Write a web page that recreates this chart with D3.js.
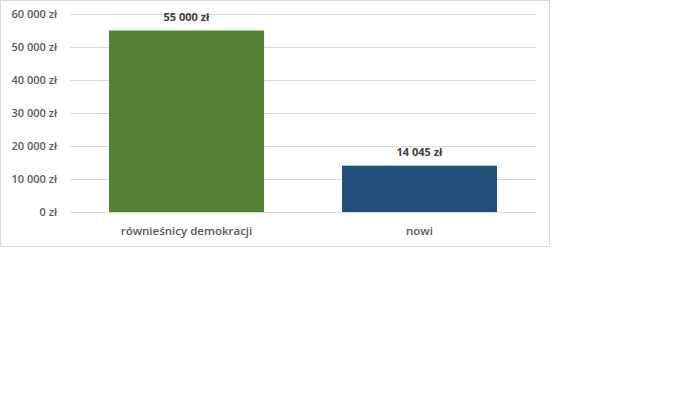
<!DOCTYPE html>
<html>
<head>
<meta charset="utf-8">
<script src="https://cdn.jsdelivr.net/npm/d3@7"></script>
<style>
  body { margin: 0; background: #fff; }
  svg text { font-family: "Open Sans", "Liberation Sans", sans-serif; }
</style>
</head>
<body>
<svg id="chart" width="700" height="393"></svg>
<script>
// chart data
const categories = ["równieśnicy demokracji", "nowi"];
const values = [55000, 14045];
const barColors = ["#548235", "#1F4E79"];
const yTicks = [0, 10000, 20000, 30000, 40000, 50000, 60000];

const fmt = v => d3.format(",")(v).replace(/,/g, " ") + " zł";

const svg = d3.select("#chart");

// outer frame of the chart area
svg.append("rect")
  .attr("x", 0.5).attr("y", 0.5)
  .attr("width", 549).attr("height", 246)
  .attr("fill", "#fff")
  .attr("stroke", "#d9d9d9");

const plotLeft = 70, plotRight = 536, plotTop = 14, plotBottom = 212;

const x = d3.scaleBand()
  .domain(categories)
  .range([plotLeft, plotRight])
  .paddingInner(0.335)
  .paddingOuter(0.1675);

const y = d3.scaleLinear()
  .domain([0, 60000])
  .range([plotBottom, plotTop]);

// gridlines
svg.append("g")
  .selectAll("line")
  .data(yTicks)
  .join("line")
  .attr("x1", plotLeft).attr("x2", plotRight)
  .attr("y1", d => Math.round(y(d)) + 0.5)
  .attr("y2", d => Math.round(y(d)) + 0.5)
  .attr("stroke", "#d9d9d9")
  .attr("stroke-width", 1);

// y tick labels
svg.append("g")
  .selectAll("text")
  .data(yTicks)
  .join("text")
  .attr("x", 57)
  .attr("y", d => y(d))
  .attr("dy", "0.35em")
  .attr("text-anchor", "end")
  .attr("fill", "#595959")
  .attr("font-size", 11)
  .attr("font-weight", 600)
  .text(fmt);

// bars
svg.append("g")
  .selectAll("rect")
  .data(values)
  .join("rect")
  .attr("x", (d, i) => x(categories[i]))
  .attr("y", d => y(d))
  .attr("width", x.bandwidth())
  .attr("height", d => y(0) - y(d))
  .attr("fill", (d, i) => barColors[i]);

// value labels
svg.append("g")
  .selectAll("text")
  .data(values)
  .join("text")
  .attr("x", (d, i) => x(categories[i]) + x.bandwidth() / 2)
  .attr("y", d => y(d) - 10)
  .attr("text-anchor", "middle")
  .attr("fill", "#404040")
  .attr("font-size", 11)
  .attr("font-weight", 700)
  .text(fmt);

// category labels
svg.append("g")
  .selectAll("text")
  .data(categories)
  .join("text")
  .attr("x", d => x(d) + x.bandwidth() / 2)
  .attr("y", 235)
  .attr("text-anchor", "middle")
  .attr("fill", "#595959")
  .attr("font-size", 11.5)
  .attr("font-weight", 600)
  .text(d => d);
</script>
</body>
</html>
